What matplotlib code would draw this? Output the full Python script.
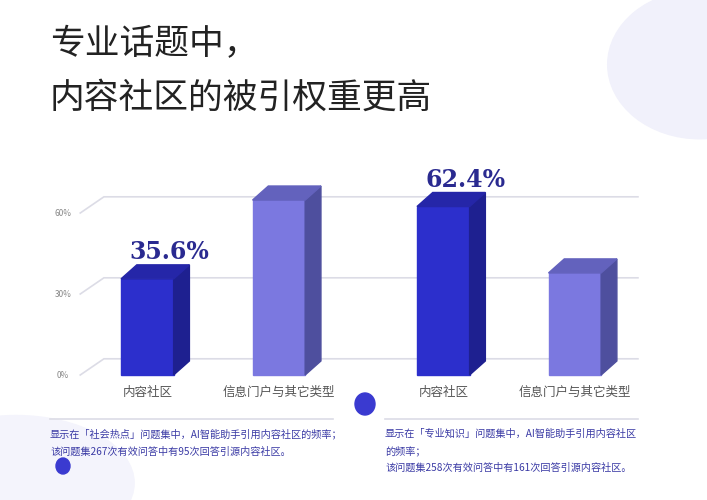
import matplotlib.pyplot as plt
from matplotlib.patches import Polygon, Ellipse
import numpy as np

plt.rcParams['font.family'] = ['Noto Sans CJK SC', 'DejaVu Sans']

categories = ['内容社区', '信息门户与其它类型', '内容社区', '信息门户与其它类型']
values = [35.6, 64.8, 62.4, 37.8]
positions = [0, 1, 2.25, 3.25]
yticks = [0, 30, 60]
highlight = {0: '35.6%', 2: '62.4%'}
notes_left = ['显示在「社会热点」问题集中，AI智能助手引用内容社区的频率；',
              '该问题集267次有效问答中有95次回答引源内容社区。']
notes_right = ['显示在「专业知识」问题集中，AI智能助手引用内容社区',
               '的频率；',
               '该问题集258次有效问答中有161次回答引源内容社区。']

dark = ('#2c2fcc', '#1e2090', '#2526a8')   # front, side, top
light = ('#7b78e0', '#4e4f9e', '#6362bd')

fig = plt.figure(figsize=(7.07, 5), dpi=100)
fig.patch.set_facecolor('white')
ax = fig.add_axes([0, 0, 1, 1])
ax.set_xlim(-1.12, 4.255)
ax.set_ylim(-46.3, 138.9)
ax.axis('off')

# soft background glow
ax.add_patch(Ellipse((4.2, 115), 1.4, 55, color='#f1f1fb', zorder=0))
ax.add_patch(Ellipse((-1.0, -40), 1.8, 50, color='#f4f4fc', zorder=0))

dx, dy = 0.12, 5.2
w = 0.4

# grid lines with perspective
for v in yticks:
    ax.plot([-0.51, -0.33, 3.73], [v, v + 6, v + 6], color='#dcdce6', lw=1.2, zorder=1)
    ax.text(-0.64, v, f'{v}%', fontsize=6, color='#888888', ha='center', va='center')

for i, (p, v) in enumerate(zip(positions, values)):
    front, side, top = dark if i % 2 == 0 else light
    x0, x1 = p - w / 2, p + w / 2
    ax.add_patch(Polygon([[x0, 0], [x1, 0], [x1, v], [x0, v]], color=front, zorder=3))
    ax.add_patch(Polygon([[x1, 0], [x1 + dx, dy], [x1 + dx, v + dy], [x1, v]], color=side, zorder=3))
    ax.add_patch(Polygon([[x0, v], [x1, v], [x1 + dx, v + dy], [x0 + dx, v + dy]], color=top, zorder=3))
    ax.text(p, -6.5, categories[i], fontsize=9, color='#555555', ha='center', va='center')
    if i in highlight:
        ax.text(p + 0.17, v + 10, highlight[i], fontsize=17, fontweight='bold',
                family='DejaVu Serif', color='#2a2a90', ha='center', va='center', zorder=4)

def fx(px):
    return px / 707

def fy(py):
    return 1 - py / 500

fig.text(fx(50), fy(45), '专业话题中，', fontsize=25, color='#222222', va='center', fontweight='medium')
fig.text(fx(50), fy(98), '内容社区的被引权重更高', fontsize=25, color='#222222', va='center', fontweight='medium')

fig.add_artist(plt.Line2D([fx(50), fx(333)], [fy(419), fy(419)], color='#dcdce6', lw=1.2))
fig.add_artist(plt.Line2D([fx(385), fx(638)], [fy(419), fy(419)], color='#dcdce6', lw=1.2))
for k, t in enumerate(notes_left):
    fig.text(fx(50), fy(434 + 18 * k), t, fontsize=7.3, color='#3b3ba5', va='center')
for k, t in enumerate(notes_right):
    fig.text(fx(385), fy(434 + 17 * k), t, fontsize=7.3, color='#3b3ba5', va='center')

fig.add_artist(Ellipse((fx(365), fy(404)), 20 / 707, 22 / 500, color='#3a3ad0'))
fig.add_artist(Ellipse((fx(63), fy(466)), 14 / 707, 16 / 500, color='#3a3ad0'))

fig.savefig('out.png', dpi=100, facecolor='white')
